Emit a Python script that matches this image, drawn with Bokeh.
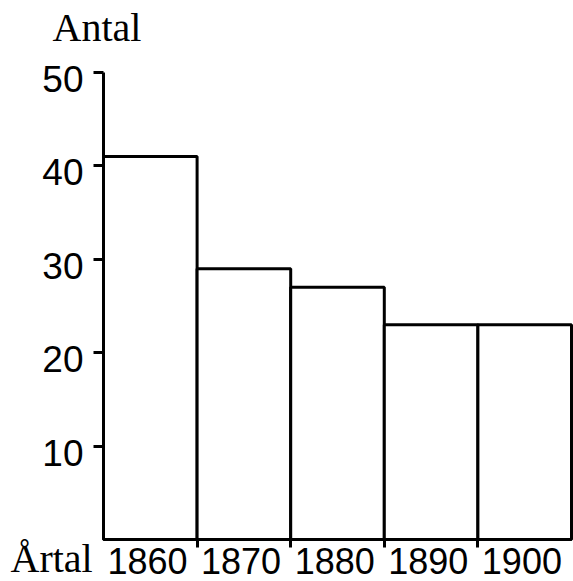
from bokeh.plotting import figure
from bokeh.models import (Range1d, FixedTicker, CustomJSTickFormatter, Label,
                          ColumnDataSource)
from bokeh.embed import file_html
from bokeh.resources import INLINE

# ---- data ----
years = [1860, 1870, 1880, 1890, 1900]
counts = [41, 29, 27, 23, 23]
y_ticks = [10, 20, 30, 40, 50]
y_title = "Antal"
x_title = "Årtal"

half = 5  # half bin width (years)
SERIF = "Liberation Serif"
SANS = "Liberation Sans"

W, H = 573, 581
x0, x1 = years[0] - half, years[-1] + half
y1 = max(y_ticks)
# plot area (pixels) inside the canvas: left/right/top/bottom of the axes box
L, R, T, B = 103, 571, 72, 539
ppx = (R - L) / (x1 - x0)
ppy = (B - T) / (y1 - 0)

p = figure(width=W, height=H, output_backend="svg", toolbar_location=None,
           x_range=Range1d(x0 - L / ppx, x1 + (W - R) / ppx),
           y_range=Range1d(0 - (H - B) / ppy, y1 + T / ppy),
           min_border=0, min_border_left=0, min_border_right=0,
           min_border_top=0, min_border_bottom=0)
p.outline_line_color = None
p.xgrid.visible = False
p.ygrid.visible = False
p.background_fill_color = "white"
p.border_fill_color = "white"

src = ColumnDataSource(dict(
    left=[y - half for y in years], right=[y + half for y in years],
    top=counts, bottom=[0] * len(counts)))

p.quad(left="left", right="right", top="top", bottom="bottom", source=src,
       fill_color="white", line_color="black", line_width=3)

# ---- x axis: ticks at bin boundaries, year labels under bins ----
xshift = 0.3
xa = p.xaxis[0]
xa.fixed_location = 0
xa.bounds = (x0, x1)
xa.ticker = FixedTicker(ticks=[y - xshift for y in years],
                        minor_ticks=[y + half for y in years[:-1]])
xa.formatter = CustomJSTickFormatter(args=dict(shift=xshift),
                                     code="return String(Math.round(tick + shift));")
xa.axis_line_width = 3
xa.axis_line_color = "black"
xa.minor_tick_out = 8
xa.minor_tick_in = 0
xa.minor_tick_line_width = 3
xa.minor_tick_line_color = "black"
xa.major_tick_out = 0
xa.major_tick_in = 0
xa.major_tick_line_color = None
xa.major_label_standoff = 0
xa.major_label_text_font = SANS
xa.major_label_text_font_size = "36px"
xa.major_label_text_color = "black"

# ---- y axis ----
shift = 0.7  # labels sit a little below their ticks
ya = p.yaxis[0]
ya.fixed_location = x0
ya.bounds = (0, y1)
ya.ticker = FixedTicker(ticks=[t - shift for t in y_ticks], minor_ticks=y_ticks)
ya.formatter = CustomJSTickFormatter(args=dict(shift=shift),
                                     code="return String(Math.round(tick + shift));")
ya.axis_line_width = 3
ya.axis_line_color = "black"
ya.major_tick_out = 0
ya.major_tick_in = 0
ya.major_tick_line_color = None
ya.minor_tick_out = 10
ya.minor_tick_in = 0
ya.minor_tick_line_width = 3
ya.minor_tick_line_color = "black"
ya.major_label_standoff = 10
ya.major_label_text_font = SANS
ya.major_label_text_font_size = "37px"
ya.major_label_text_color = "black"

# ---- titles ----
p.add_layout(Label(x=x0, y=y1, text=y_title,
                   x_offset=-51, y_offset=45, text_align="left",
                   text_baseline="alphabetic", text_font=SERIF,
                   text_font_size="40px", text_color="black"))
p.add_layout(Label(x=x0, y=0, text=x_title,
                   x_offset=-93, y_offset=-19, text_align="left",
                   text_baseline="alphabetic", text_font=SERIF,
                   text_font_size="40px", text_color="black"))

open("out.html", "w").write(file_html(p, INLINE))
